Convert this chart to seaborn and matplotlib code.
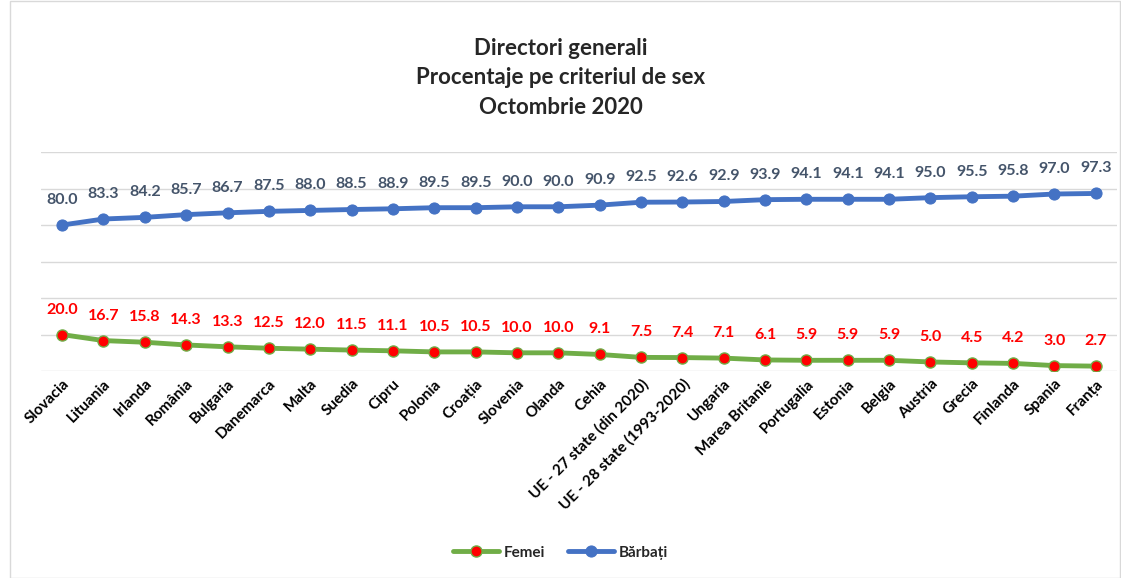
import pandas as pd
import matplotlib.pyplot as plt
import seaborn as sns

# -------------------------
# Data
# -------------------------
tari = ["Slovacia", "Lituania", "Irlanda", "România", "Bulgaria", "Danemarca", "Malta",
        "Suedia", "Cipru", "Polonia", "Croația", "Slovenia", "Olanda", "Cehia",
        "UE - 27 state (din 2020)", "UE - 28 state (1993-2020)", "Ungaria", "Marea Britanie",
        "Portugalia", "Estonia", "Belgia", "Austria", "Grecia", "Finlanda", "Spania", "Franța"]
barbati = [80.0, 83.3, 84.2, 85.7, 86.7, 87.5, 88.0, 88.5, 88.9, 89.5, 89.5, 90.0, 90.0,
           90.9, 92.5, 92.6, 92.9, 93.9, 94.1, 94.1, 94.1, 95.0, 95.5, 95.8, 97.0, 97.3]
femei = [20.0, 16.7, 15.8, 14.3, 13.3, 12.5, 12.0, 11.5, 11.1, 10.5, 10.5, 10.0, 10.0,
         9.1, 7.5, 7.4, 7.1, 6.1, 5.9, 5.9, 5.9, 5.0, 4.5, 4.2, 3.0, 2.7]

df = pd.DataFrame({"tara": tari, "Femei": femei, "Bărbați": barbati})

sns.set_theme(style="white")
plt.rcParams['font.family'] = ['Lato', 'DejaVu Sans']

fig = plt.figure(figsize=(11.21, 5.78), dpi=100)
ax = fig.add_axes([0.037, 0.358, 0.959, 0.379])

green = "#70AD47"
blue = "#4472C4"

sns.lineplot(data=df, x="tara", y="Femei", ax=ax, color=green, linewidth=3.5,
             marker="o", markersize=8, markerfacecolor="#FF0000",
             markeredgecolor=green, markeredgewidth=1, label="Femei", sort=False)
sns.lineplot(data=df, x="tara", y="Bărbați", ax=ax, color=blue, linewidth=3.5,
             marker="o", markersize=8, markerfacecolor=blue,
             markeredgecolor=blue, label="Bărbați", sort=False)

# data labels
for i, (f, b) in enumerate(zip(femei, barbati)):
    ax.annotate(f"{f:.1f}", (i, f), xytext=(0, 13), textcoords="offset points",
                ha="center", va="bottom", color="#FF0000", fontsize=11.5, fontweight="bold")
    ax.annotate(f"{b:.1f}", (i, b), xytext=(0, 13), textcoords="offset points",
                ha="center", va="bottom", color="#44546A", fontsize=11.5, fontweight="bold")

ax.set_ylim(0, 120)
ax.set_yticks(range(0, 121, 20))
ax.set_yticklabels([])
ax.set_xlim(-0.5, len(tari) - 0.5)
ax.grid(axis="y", color="#D9D9D9", linewidth=1)
ax.set_axisbelow(True)
for s in ax.spines.values():
    s.set_visible(False)
ax.set_xlabel("")
ax.set_ylabel("")
ax.tick_params(axis="both", length=0)
ax.tick_params(axis="x", pad=4)
plt.setp(ax.get_xticklabels(), rotation=45, ha="right", rotation_mode="anchor",
         fontsize=11, fontweight="bold", color="black")

ax.get_legend().remove()
h, l = ax.get_legend_handles_labels()
fig.legend(h, l, loc="center", bbox_to_anchor=(0.5, 0.044), ncol=2, frameon=False,
           prop={"weight": "bold", "size": 11}, handlelength=3, columnspacing=1.5,
           handletextpad=0.3)

fig.text(0.5, 0.935, "Directori generali\nProcentaje pe criteriul de sex\nOctombrie 2020",
         ha="center", va="top", fontsize=16, fontweight="bold", linespacing=1.5)

# thin frame round the chart
fig.patches.append(plt.Rectangle((0.009, 0.0), 0.99, 0.998, transform=fig.transFigure,
                                 fill=False, edgecolor="#D9D9D9", linewidth=1))

plt.savefig("out.png", dpi=100)
plt.close()
